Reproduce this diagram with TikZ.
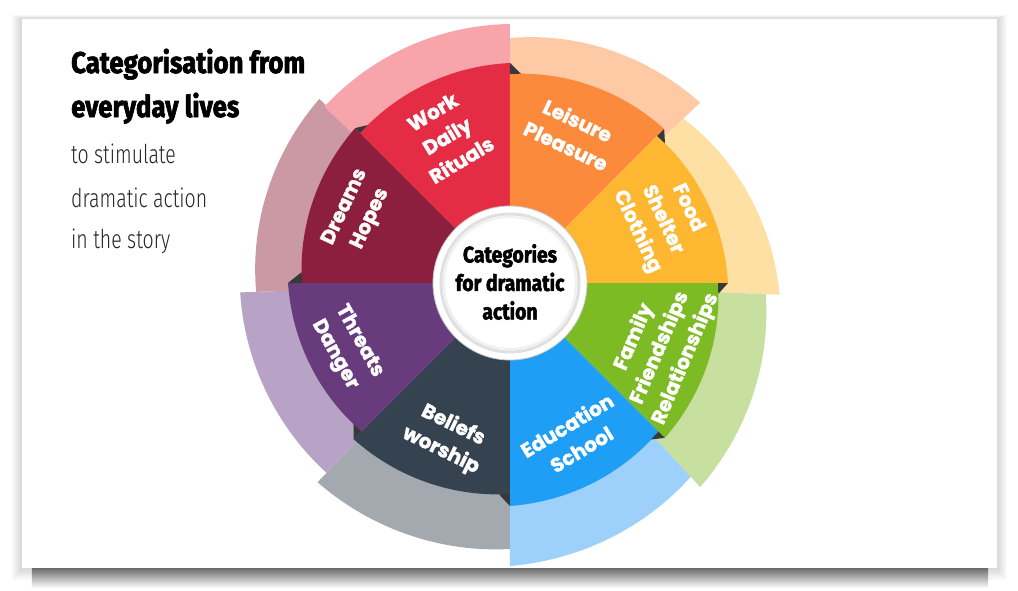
\documentclass[tikz,border=0pt]{standalone}
\usepackage{fontspec}
\usepackage{tikz}
\usetikzlibrary{positioning}
\setmainfont{Fira Sans}
\newfontfamily\headfont{Fira Sans}[FakeStretch=0.86, BoldFeatures={FakeBold=2.2}]
\newfontfamily\subfont{Fira Sans Light}[FakeStretch=0.75]
\newfontfamily\segfont{Poppins}[BoldFeatures={FakeBold=1.6}]

% segment colours
\definecolor{workred}{HTML}{E42D45}
\definecolor{leisorange}{HTML}{FB8A3D}
\definecolor{foodyellow}{HTML}{FDB730}
\definecolor{famgreen}{HTML}{7DBB24}
\definecolor{edublue}{HTML}{1F9EF5}
\definecolor{beliefslate}{HTML}{34434F}
\definecolor{threatpurple}{HTML}{683B7D}
\definecolor{dreammaroon}{HTML}{8C1F3E}
% outer band colours
\definecolor{workband}{HTML}{F8A4AB}
\definecolor{leisband}{HTML}{FECAA6}
\definecolor{foodband}{HTML}{FEDFA4}
\definecolor{famband}{HTML}{C7E0A0}
\definecolor{eduband}{HTML}{9ED0FC}
\definecolor{beliefband}{HTML}{A4A9AF}
\definecolor{threatband}{HTML}{B8A3C6}
\definecolor{dreamband}{HTML}{CB99A4}

\begin{document}
\begin{tikzpicture}[x=1pt, y=1pt,
    seglabel/.style={text=white, align=center, inner sep=0pt,
      font=\segfont\bfseries\fontsize{20}{28}\selectfont},
    headline/.style={anchor=base west, inner sep=0pt,
      font=\headfont\bfseries\fontsize{30}{34}\selectfont},
    subline/.style={anchor=base west, inner sep=0pt,
      font=\subfont\fontsize{26}{30}\selectfont, text=black!85},
    fold/.style={fill=black!78}]

  \useasboundingbox (-510,-307) rectangle (508,283);

  % slide with its shadow
  \foreach \d in {1,...,10}
    \fill[black, opacity=0.015] (-488-\d,264+0.4*\d) rectangle (487+\d,-285-1.2*\d);
  \shade[top color=black!58, bottom color=white] (-478,-285) rectangle (478,-305);
  \fill[white] (-488,-285) rectangle (487,264);

  % outer bands
  \foreach \a/\b/\ra/\rb/\col in {43.5/-2.5/239/270/foodband, 90/43.5/245/262/leisband,
      -2.5/-47/256/279/famband, -47/-90/265/283/eduband, -90/-134/266/277/beliefband,
      -134/-178/264/270/threatband, 182/136/254/265/dreamband, 136.5/90/256/259/workband}
    \fill[\col] (0,0) -- plot[domain=\a:\b, samples=30] (\x:{\ra+(\rb-\ra)*(\a-\x)/(\a-\b)}) -- cycle;

  % inner segments
  \foreach \a/\ra/\rb/\col in {135/212/220/workred, 90/209/218/leisorange, 45/208/218/foodyellow,
      0/208/219/famgreen, -45/210/223/edublue, -90/211/221/beliefslate,
      -135/210/222/threatpurple, 180/208/219/dreammaroon}
    \fill[\col] (0,0) -- plot[domain=\a:\a-45, samples=30] (\x:{\ra+(\rb-\ra)*(\a-\x)/45}) -- cycle;

  % small folds where the ribbon steps
  \foreach \b/\ri/\ro in {90/209/220, 45/208/218, 0/208/218, -45/210/219,
      -90/211/223, -135/210/221, 180/208/222, 135/212/219}
    \fill[fold] (\b:\ri) -- (\b:\ro) -- (\b-3:\ri+0.6) -- cycle;

  % hub
  \node[circle, minimum size=154, fill=white, draw=black!22, line width=0.8pt] (hub) at (0,0) {};
  \draw[black!12, line width=3pt] (hub.center) circle (69);
  \draw[black!6, line width=2pt] (hub.center) circle (66);
  \node[align=center, inner sep=0pt, font=\headfont\bfseries\fontsize{22.5}{28.5}\selectfont]
    (hubtext) at (0,1) {Categories\\for dramatic\\action};

  % segment labels
  \node[seglabel, rotate=31] (work) at (-63,147) {Work\\Daily\\Rituals};
  \node[seglabel, rotate=-25] (leisure) at (62,150) {Leisure\\Pleasure};
  \node[seglabel, rotate=-65] (food) at (152,63) {Food\\Shelter\\Clothing};
  \node[seglabel, rotate=67] (family) at (150,-65) {Family\\Friendships\\Relationships};
  \node[seglabel, rotate=31] (education) at (64,-154) {Education\\School};
  \node[seglabel, rotate=-26] (beliefs) at (-63,-155) {Beliefs\\worship};
  \node[seglabel, rotate=-61] (threats) at (-163,-65) {Threats\\Danger};
  \node[seglabel, rotate=65] (dreams) at (-152,70) {Dreams\\Hopes};

  % heading at the left
  \node[headline] (head1) at (-439,210) {Categorisation from};
  \node[headline] (head2) at ([yshift=-44pt]head1.base west) {everyday lives};
  \node[subline] (sub1) at ([yshift=-46pt]head2.base west) {to stimulate};
  \node[subline] (sub2) at ([yshift=-44pt]sub1.base west) {dramatic action};
  \node[subline] (sub3) at ([yshift=-41pt]sub2.base west) {in the story};
\end{tikzpicture}
\end{document}
